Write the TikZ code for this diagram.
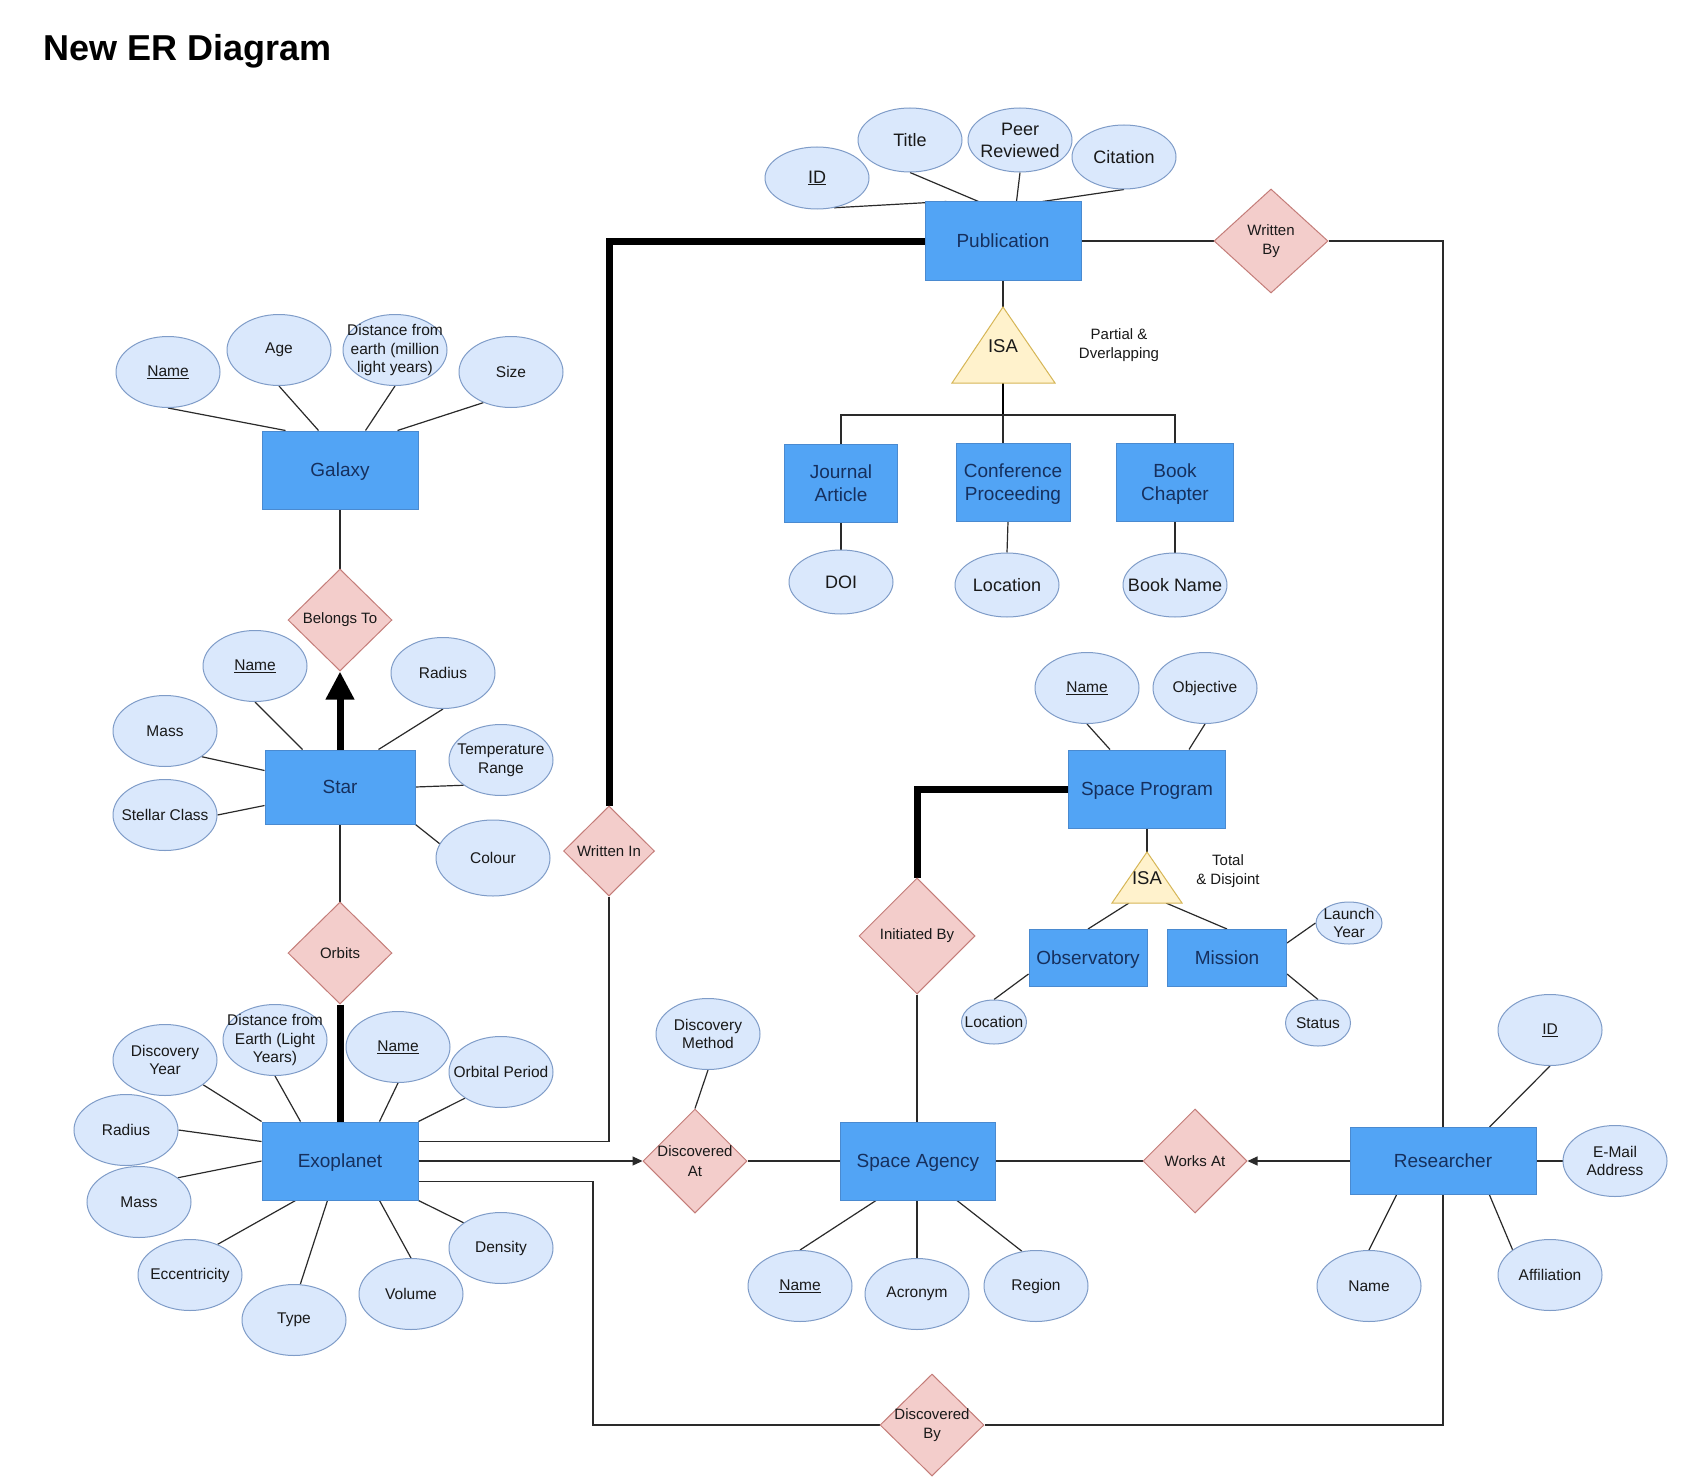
\documentclass[tikz,border=0pt]{standalone}
\usepackage{fontspec}
\setmainfont{Liberation Sans}
\usetikzlibrary{shapes.geometric,arrows.meta,calc}
\definecolor{entfill}{HTML}{52A4F5}
\definecolor{entdraw}{HTML}{4A8AD0}
\definecolor{enttext}{HTML}{16305E}
\definecolor{attrfill}{HTML}{DAE8FC}
\definecolor{attrdraw}{HTML}{7F9CC8}
\definecolor{relfill}{HTML}{F3CDCB}
\definecolor{reldraw}{HTML}{C47D79}
\definecolor{isafill}{HTML}{FFF2CC}
\definecolor{isadraw}{HTML}{D6B656}
\definecolor{linecol}{HTML}{2A2A2A}
\pgfdeclarelayer{bg}
\pgfsetlayers{bg,main}
\begin{document}
\begin{tikzpicture}[x=1pt,y=-1pt,
  ent/.style={rectangle, draw=entdraw, fill=entfill, text=enttext, line width=1,
    font=\fontsize{19}{23.5}\selectfont, align=center, inner sep=0, text depth=0pt},
  atxt/.style={font=\fontsize{15.5}{18.6}\selectfont, align=center, text=black!90, inner sep=0},
  atxtL/.style={font=\fontsize{18}{22}\selectfont, align=center, text=black!90, inner sep=0},
  attr/.style={ellipse, draw=attrdraw, fill=attrfill, line width=1, inner sep=0,
    minimum width=104, minimum height=71, label={[atxt]center:{#1}}},
  attrL/.style={ellipse, draw=attrdraw, fill=attrfill, line width=1, inner sep=0,
    minimum width=104, minimum height=64, label={[atxtL]center:{#1}}},
  rtxt/.style={font=\fontsize{15}{19.5}\selectfont, align=center, text=black!90, inner sep=0},
  rel/.style={diamond, draw=reldraw, fill=relfill, line width=1, inner sep=0,
    minimum width=104, minimum height=102, label={[rtxt]center:{#1}}},
  isa/.style={draw=isadraw, fill=isafill, line width=1},
  isatxt/.style={font=\fontsize{18.5}{22}\selectfont, inner sep=0, text=black!90},
  note/.style={font=\fontsize{15}{18.5}\selectfont, align=center, inner sep=0, text=black!90},
  cn/.style={draw=linecol, line width=1.2},
  tk/.style={draw=black, line width=7},
  tip/.style={-{Triangle[length=10pt,width=9pt]}}
]
\useasboundingbox (0,0) rectangle (1694,1482);

\node[anchor=base west, font=\fontsize{36}{40}\selectfont\bfseries, inner sep=0] (title) at (43,61) {New ER Diagram};

% entities
\node[ent, minimum width=156, minimum height=78] (pub) at (1003,241) {Publication};
\node[ent, minimum width=156, minimum height=78] (gal) at (340,470) {Galaxy};
\node[ent, minimum width=150, minimum height=74] (star) at (340,787) {Star};
\node[ent, minimum width=156, minimum height=78] (exo) at (340,1161) {Exoplanet};
\node[ent, minimum width=113, minimum height=78] (ja) at (841,483) {Journal\\Article};
\node[ent, minimum width=114, minimum height=78] (cp) at (1013,482) {Conference\\Proceeding};
\node[ent, minimum width=117, minimum height=78] (bc) at (1175,482) {Book\\Chapter};
\node[ent, minimum width=157, minimum height=78] (sp) at (1147,789) {Space Program};
\node[ent, minimum width=118, minimum height=57] (obs) at (1088,958) {Observatory};
\node[ent, minimum width=119, minimum height=57] (mis) at (1227,958) {Mission};
\node[ent, minimum width=155, minimum height=78] (sa) at (918,1161) {Space Agency};
\node[ent, minimum width=186, minimum height=67] (res) at (1443,1161) {Researcher};

% relationships
\node[rel={Belongs To}] (belongs) at (340,620) {};
\node[rel={Orbits}] (orbits) at (340,953) {};
\node[rel={Written In}, minimum width=91, minimum height=90] (writtenin) at (609,851) {};
\node[rel={Written\\By}, minimum width=114, minimum height=104] (writtenby) at (1271,241) {};
\node[rel={Initiated By}, minimum width=116, minimum height=116] (initiated) at (917,936) {};
\node[rel={Discovered\\At}, minimum height=104] (discat) at (695,1161) {};
\node[rel={Works At}, minimum height=104] (worksat) at (1195,1161) {};
\node[rel={Discovered\\By}] (discby) at (932,1425) {};

% ISA triangles
\coordinate (isa1top) at (1003,307);
\coordinate (isa1bot) at (1003,383);
\draw[isa] (isa1top) -- (1055,383) -- (952,383) -- cycle;
\node[isatxt] (isa1) at (1003,346) {ISA};
\node[note] (isa1note) at (1119,345) {Partial \&\\Dverlapping};
\coordinate (isa2top) at (1147,852);
\coordinate (isa2l) at (1129,903);
\coordinate (isa2r) at (1166,903);
\draw[isa] (isa2top) -- (1182,903) -- (1112,903) -- cycle;
\node[isatxt] (isa2) at (1147,878) {ISA};
\node[note] (isa2note) at (1228,871) {Total\\\& Disjoint};

% publication attributes
\node[attrL={\underline{ID}}, minimum height=62] (pid) at (817,178) {};
\node[attrL={Title}] (ptitle) at (910,140) {};
\node[attrL={Peer\\Reviewed}] (ppeer) at (1020,140) {};
\node[attrL={Citation}] (pcit) at (1124,157) {};
\node[attrL={DOI}] (doi) at (841,582) {};
\node[attrL={Location}] (cploc) at (1007,585) {};
\node[attrL={Book Name}] (bname) at (1175,585) {};

% galaxy attributes
\node[attr={\underline{Name}}] (gname) at (168,372) {};
\node[attr={Age}] (gage) at (279,350) {};
\node[attr={Distance from\\earth (million\\light years)}] (gdist) at (395,350) {};
\node[attr={Size}] (gsize) at (511,372) {};

% star attributes
\node[attr={\underline{Name}}] (sname) at (255,666) {};
\node[attr={Radius}] (sradius) at (443,673) {};
\node[attr={Mass}] (smass) at (165,731) {};
\node[attr={Temperature\\Range}] (stemp) at (501,760) {};
\node[attr={Stellar Class}] (sclass) at (165,815) {};
\node[attr={Colour}, minimum width=114, minimum height=76] (scolour) at (493,858) {};

% exoplanet attributes
\node[attr={Discovery\\Year}] (edy) at (165,1060) {};
\node[attr={Distance from\\Earth (Light\\Years)}] (edist) at (275,1040) {};
\node[attr={\underline{Name}}] (ename) at (398,1047) {};
\node[attr={Orbital Period}] (eop) at (501,1072) {};
\node[attr={Radius}] (erad) at (126,1130) {};
\node[attr={Mass}] (emass) at (139,1202) {};
\node[attr={Eccentricity}] (eecc) at (190,1275) {};
\node[attr={Type}] (etype) at (294,1320) {};
\node[attr={Volume}] (evol) at (411,1294) {};
\node[attr={Density}] (eden) at (501,1248) {};
\node[attr={Discovery\\Method}] (dm) at (708,1034) {};

% space program attributes
\node[attr={\underline{Name}}] (spname) at (1087,688) {};
\node[attr={Objective}] (spobj) at (1205,688) {};
\node[attr={Location}, minimum width=65, minimum height=44] (obsloc) at (994,1022) {};
\node[attr={Launch\\Year}, minimum width=66, minimum height=42] (launch) at (1349,923) {};
\node[attr={Status}, minimum width=65, minimum height=46] (status) at (1318,1023) {};

% space agency attributes
\node[attr={\underline{Name}}] (saname) at (800,1286) {};
\node[attr={Acronym}] (saacr) at (917,1294) {};
\node[attr={Region}] (sareg) at (1036,1286) {};

% researcher attributes
\node[attr={\underline{ID}}] (rid) at (1550,1030) {};
\node[attr={E-Mail\\Address}] (remail) at (1615,1161) {};
\node[attr={Name}] (rname) at (1369,1286) {};
\node[attr={Affiliation}] (raff) at (1550,1275) {};

\coordinate (dbcorner) at (593,1425);
\coordinate (isabar) at (1003,415);

\begin{pgfonlayer}{bg}
\fill[white] (0,0) rectangle (1694,1482);
% publication
\draw[cn] (pid.-60) -- ($(pub.north west)+(22,0)$);
\draw[cn] (ptitle.south) -- ($(pub.north west)+(54,0)$);
\draw[cn] (ppeer.south) -- ($(pub.north west)+(92,0)$);
\draw[cn] (pcit.south) -- ($(pub.north west)+(118,0)$);
\draw[cn] (pub.south) -- (isa1top);
\draw[draw=black, line width=2.4] (isa1bot) -- (isabar);
\draw[cn] (isabar) -- (isabar |- cp.north);
\draw[cn] (ja.north) -- (ja.north |- isabar) -- (bc.north |- isabar) -- (bc.north);
\draw[cn] (ja.south) -- (doi.north);
\draw[cn] ($(cp.south)+(-5,0)$) -- (cploc.north);
\draw[cn] (bc.south) -- (bname.north);
\draw[cn] (pub.east) -- (writtenby.west);
\draw[cn] (writtenby.east) -- (res |- writtenby) -- (res |- discby) -- (discby.east);
\draw[tk] (pub.west) -| (writtenin.north);
% galaxy
\draw[cn] (gname.south) -- ($(gal.north west)+(24,0)$);
\draw[cn] (gage.south) -- ($(gal.north west)+(57,0)$);
\draw[cn] (gdist.south) -- ($(gal.north west)+(104,0)$);
\draw[cn] (gsize.228) -- ($(gal.north west)+(136,0)$);
\draw[cn] (gal.south) -- (belongs.north);
% star
\draw[tk, -{Triangle[length=28pt,width=27pt]}] (star.north) -- (belongs.south);
\draw[cn] (sname.south) -- ($(star.north west)+(38,0)$);
\draw[cn] (sradius.south) -- ($(star.north west)+(114,0)$);
\draw[cn] (smass.-35) -- ($(star.north west)+(0,21)$);
\draw[cn] (sclass.east) -- ($(star.north west)+(0,56)$);
\draw[cn] (stemp.214) -- (star.east);
\draw[cn] (scolour.165) -- (star.south east);
\draw[cn] (star.south) -- (orbits.north);
\draw[tk] (orbits.south) -- (exo.north);
% exoplanet
\draw[cn] (edy.-33) -- (exo.north west);
\draw[cn] (edist.south) -- ($(exo.north west)+(39,0)$);
\draw[cn] (ename.south) -- ($(exo.north west)+(118,0)$);
\draw[cn] (eop.216) -- (exo.north east);
\draw[cn] (erad.east) -- ($(exo.north west)+(0,20)$);
\draw[cn] (emass.32) -- (exo.west);
\draw[cn] (eecc.48) -- ($(exo.south west)+(34,0)$);
\draw[cn] (etype.80) -- ($(exo.south west)+(66,0)$);
\draw[cn] (evol.north) -- ($(exo.south west)+(118,0)$);
\draw[cn] (eden.146) -- (exo.south east);
\draw[cn] ($(exo.north east)+(0,20)$) -| (writtenin.south);
\draw[cn, tip] (exo.east) -- (discat.west);
\draw[cn] ($(exo.south east)+(0,-19)$) -| (dbcorner) -- (discby.west);
\draw[cn] (dm.south) -- (discat.north);
\draw[cn] (discat.east) -- (sa.west);
% space program
\draw[cn] (spname.south) -- ($(sp.north west)+(42,0)$);
\draw[cn] (spobj.south) -- ($(sp.north west)+(121,0)$);
\draw[tk] (sp.west) -| (initiated.north);
\draw[cn] (sp.south) -- (isa2top);
\draw[cn] (isa2l) -- (obs.north);
\draw[cn] (isa2r) -- (mis.north);
\draw[cn] ($(obs.south west)+(0,-13)$) -- (obsloc.north);
\draw[cn] ($(mis.north east)+(0,14)$) -- (launch.west);
\draw[cn] ($(mis.south east)+(0,-13)$) -- (status.north);
% space agency
\draw[cn] (initiated.south) -- (initiated.south |- sa.north);
\draw[cn] ($(sa.south west)+(36,0)$) -- (saname.north);
\draw[cn] (saacr.north |- sa.south) -- (saacr.north);
\draw[cn] ($(sa.south west)+(117,0)$) -- (sareg.112);
\draw[cn] (sa.east) -- (worksat.west);
% researcher
\draw[cn, tip] (res.west) -- (worksat.east);
\draw[cn] (rid.south) -- ($(res.north west)+(140,0)$);
\draw[cn] (res.east) -- (remail.west);
\draw[cn] ($(res.south west)+(47,0)$) -- (rname.north);
\draw[cn] ($(res.south west)+(140,0)$) -- (raff.146);
\end{pgfonlayer}
\end{tikzpicture}
\end{document}
